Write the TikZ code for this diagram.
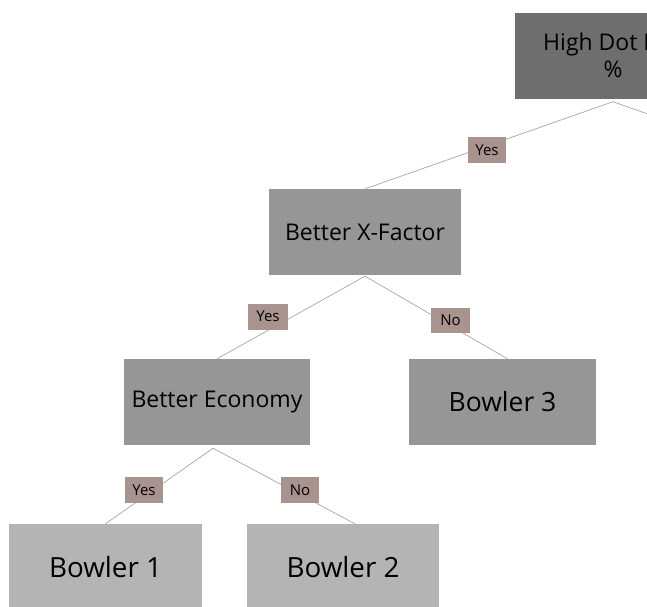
\documentclass[tikz,border=0pt]{standalone}
\usepackage{fontspec}
\setmainfont{Open Sans}
\definecolor{topgray}{HTML}{6E6E6E}
\definecolor{midgray}{HTML}{969696}
\definecolor{leafgray}{HTML}{B4B4B4}
\definecolor{tagfill}{HTML}{A8938F}
\definecolor{linegray}{HTML}{A6A6A6}
\begin{document}
\begin{tikzpicture}[x=1pt,y=1pt,
  box/.style={rectangle, inner sep=0pt, minimum height=86pt, align=center, text=black},
  topbox/.style={box, fill=topgray, minimum width=196pt, font=\fontsize{23}{27}\selectfont},
  midbox/.style={box, fill=midgray, minimum width=190pt, font=\fontsize{23}{27}\selectfont},
  leafbox/.style={box, fill=midgray, minimum width=187pt, font=\fontsize{26.5}{30}\selectfont},
  lowleaf/.style={box, fill=leafgray, minimum width=193pt, font=\fontsize{27.8}{32}\selectfont},
  tag/.style={rectangle, fill=tagfill, inner sep=0pt, minimum width=38pt, minimum height=26pt, font=\fontsize{15}{17}\selectfont, text=black},
  conn/.style={draw=linegray, line width=0.7pt}]
\useasboundingbox (0,0) rectangle (647,-606);
\clip (0,0) rectangle (647,-606);
\fill[white] (0,0) rectangle (647,-606);
% main boxes
\node[topbox] (hd) at (613,-55.5) {High Dot Ball\\\%};
\node[midbox, minimum width=192pt] (xf) at (365,-232) {Better X-Factor};
\node[midbox, minimum width=186pt] (ec) at (217,-402) {Better Economy};
\node[leafbox] (b3) at (502.5,-402) {Bowler 3};
\node[lowleaf] (b1) at (105.5,-567) {Bowler 1};
\node[lowleaf, minimum width=192pt] (b2) at (343,-567) {Bowler 2};
\coordinate (offR) at (859,-189);
% connectors
\draw[conn] ([yshift=-3pt]hd.south) -- (xf.north);
\draw[conn] ([yshift=-3pt]hd.south) -- (offR);
\draw[conn] ([yshift=-1pt]xf.south) -- (ec.north);
\draw[conn] ([yshift=-1pt]xf.south) -- ([xshift=5pt]b3.north);
\draw[conn] ([yshift=-3pt,xshift=-4pt]ec.south) -- (b1.north);
\draw[conn] ([yshift=-3pt,xshift=-4pt]ec.south) -- ([xshift=12pt]b2.north);
% labels
\node[tag] (t1) at (487,-150) {Yes};
\node[tag, minimum width=40pt] (t2) at (268,-316.5) {Yes};
\node[tag, minimum width=39pt, minimum height=25pt] (t3) at (450.5,-320.5) {No};
\node[tag] (t4) at (144,-490) {Yes};
\node[tag] (t5) at (300,-490) {No};
\end{tikzpicture}
\end{document}
